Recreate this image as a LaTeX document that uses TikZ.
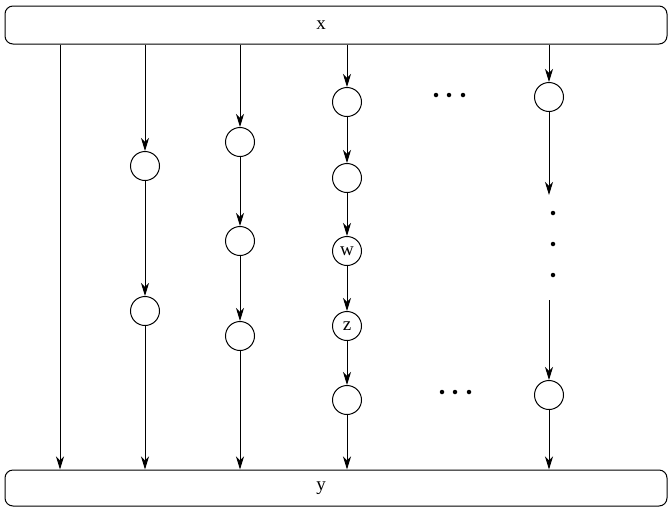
\documentclass[tikz,border=0pt]{standalone}
\usepackage{fontspec}
\setmainfont{Liberation Serif}
\usetikzlibrary{arrows.meta}
\begin{document}
\begin{tikzpicture}[x=1pt,y=-1pt,line width=1pt,
  bar/.style={draw,rounded corners=8pt,minimum width=662pt,inner sep=0pt},
  tag/.style={font=\fontsize{19}{19}\selectfont,xshift=-15pt,inner sep=0pt},
  cell/.style={draw,circle,minimum size=29pt,inner sep=0pt,font=\fontsize{19}{19}\selectfont},
  flow/.style={-{Stealth[length=13pt,width=8pt,inset=4pt]}},
  pt/.style={circle,fill,inner sep=0pt,minimum size=4.5pt}]
\useasboundingbox (0,0) rectangle (670,507);
\node[bar,minimum height=38pt,label={[tag]center:x}](x) at (336,25){};
\node[bar,minimum height=36pt,label={[tag]center:y}](y) at (336,488){};
% column 1
\coordinate(c1) at (60,0);
\draw[flow](x.south -| c1)--(y.north -| c1);
% column 2
\node[cell](a1) at (145,166){};\node[cell](a2) at (145,311){};
\draw[flow](x.south -| a1)--(a1);\draw[flow](a1)--(a2);\draw[flow](a2)--(y.north -| a2);
% column 3
\node[cell](b1) at (240,142){};\node[cell](b2) at (240,241){};\node[cell](b3) at (240,336){};
\draw[flow](x.south -| b1)--(b1);\draw[flow](b1)--(b2);\draw[flow](b2)--(b3);\draw[flow](b3)--(y.north -| b3);
% column 4
\node[cell](d1) at (347,102){};\node[cell](d2) at (347,178){};\node[cell](w) at (347,251){w};
\node[cell](z) at (347,326){z};\node[cell](d5) at (347,400){};
\draw[flow](x.south -| d1)--(d1);\draw[flow](d1)--(d2);\draw[flow](d2)--(w);\draw[flow](w)--(z);
\draw[flow](z)--(d5);\draw[flow](d5)--(y.north -| d5);
% column 5
\node[cell](e1) at (549,97){};\node[cell](e2) at (549,395){};
\coordinate(e1b) at (549,195);\coordinate(e2a) at (549,300);
\draw[flow](x.south -| e1)--(e1);\draw[flow](e1)--(e1b);\draw[flow](e2a)--(e2);\draw[flow](e2)--(y.north -| e2);
% dots
\foreach \i/\p in {0/436,1/449,2/463}{\node[pt](u\i) at (\p,95){};}
\foreach \i/\p in {0/442,1/455,2/469}{\node[pt](l\i) at (\p,392){};}
\foreach \i/\p in {0/213,1/244,2/275}{\node[pt](v\i) at (553,\p){};}
\end{tikzpicture}
\end{document}
